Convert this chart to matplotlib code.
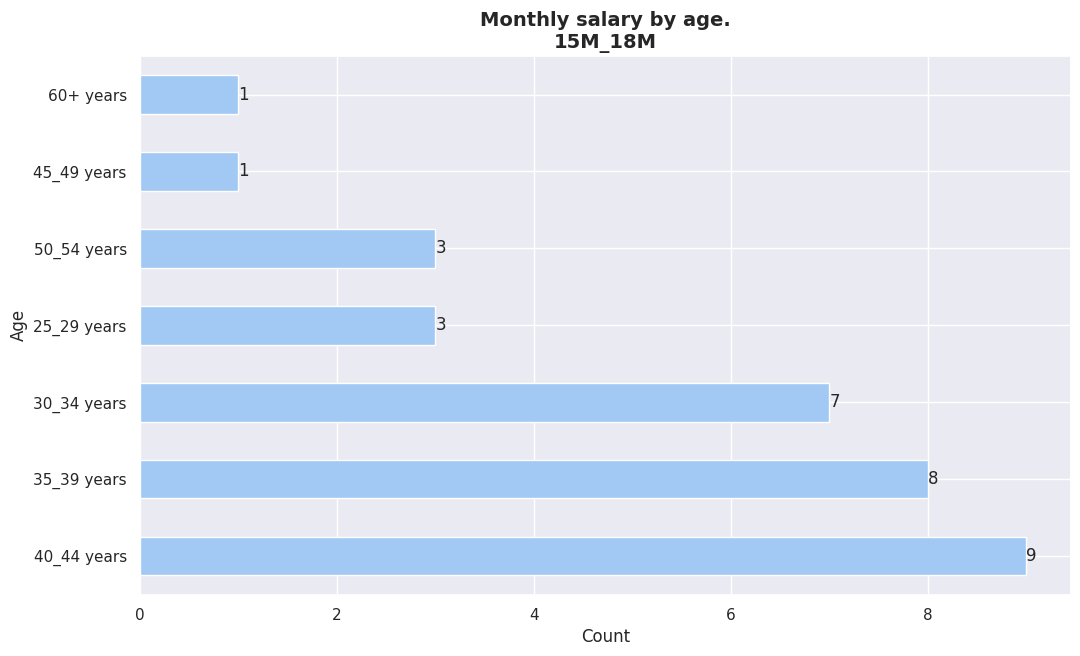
import matplotlib
matplotlib.use("Agg")
import matplotlib.pyplot as plt
import seaborn as sns

sns.set_theme(style="darkgrid")

ages = ["40_44 years", "35_39 years", "30_34 years", "25_29 years",
        "50_54 years", "45_49 years", "60+ years"]
counts = [9, 8, 7, 3, 3, 1, 1]
title = "Monthly salary by age.\n15M_18M"

fig, ax = plt.subplots(figsize=(10.8, 6.56), dpi=100)
fig.subplots_adjust(left=0.1296, right=0.9915, top=0.9145, bottom=0.0935)

positions = list(range(len(ages)))
bars = ax.barh(positions, counts, height=0.5, color="#a1c9f4")
ax.set_yticks(positions)
ax.set_yticklabels(ages)
ax.set_ylim(-0.5, len(ages) - 0.5)
ax.margins(x=0.05)
ax.bar_label(bars, fontsize=12)
ax.set_xlabel("Count")
ax.set_ylabel("Age")
ax.set_title(title, fontsize=14, fontweight="bold")

fig.savefig("out.png", dpi=100)
